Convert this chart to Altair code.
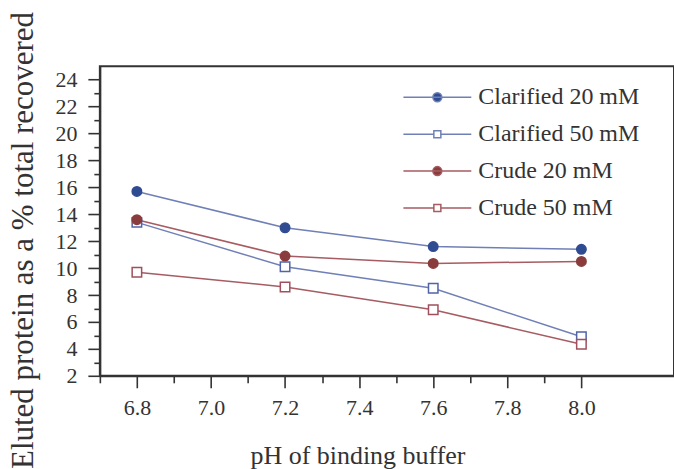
import altair as alt
import pandas as pd

# pH of the binding buffer
ph = [6.8, 7.2, 7.6, 8.0]

# Eluted protein as a % of total recovered
clarified_20 = [15.7, 13.0, 11.6, 11.4]
clarified_50 = [13.4, 10.1, 8.5, 4.9]
crude_20 = [13.6, 10.9, 10.35, 10.5]
crude_50 = [9.7, 8.6, 6.9, 4.35]

series_names = ["Clarified 20 mM", "Clarified 50 mM", "Crude 20 mM", "Crude 50 mM"]
series_values = [clarified_20, clarified_50, crude_20, crude_50]

x_ticks = [6.7, 6.8, 6.9, 7.0, 7.1, 7.2, 7.3, 7.4, 7.5, 7.6, 7.7, 7.8, 7.9, 8.0]
y_ticks = list(range(2, 25))

line_colors = ["#7080b6", "#7080b6", "#a65c62", "#a65c62"]
marker_strokes = ["#2f4c92", "#5064a8", "#8a3c3c", "#a0505c"]
marker_fills = ["#2f4c92", "#ffffff", "#8a3c3c", "#ffffff"]
marker_shapes = ["circle", "square", "circle", "square"]

# legend keys: a short line segment with the marker in its middle
circle_key = "M-6.8,0L6.8,0M0.9,0A0.9,0.9,0,1,1,-0.9,0A0.9,0.9,0,1,1,0.9,0Z"
square_key = "M-6.8,0L-0.7,0M0.7,0L6.8,0M-0.7,-0.7L0.7,-0.7L0.7,0.7L-0.7,0.7Z"
legend_keys = [circle_key, square_key, circle_key, square_key]

rows = []
for name, vals, lc, ms, mf, sh in zip(series_names, series_values, line_colors,
                                      marker_strokes, marker_fills, marker_shapes):
    for x, y in zip(ph, vals):
        rows.append(dict(ph=x, value=y, series=name, line_col=lc,
                         stroke_col=ms, fill_col=mf, shape=sh))
df = pd.DataFrame(rows)

FONT = "'Liberation Serif', 'Times New Roman', Times, serif"
INK = "#333333"

x_major = "round(datum.value * 10) % 2 == 0"
y_major = "datum.value % 2 == 0"

x_enc = alt.X(
    "ph:Q",
    scale=alt.Scale(domain=[6.7, 8.25], nice=False, zero=False),
    axis=alt.Axis(
        values=x_ticks, format=".1f",
        labelExpr=f"{x_major} ? datum.label : ''",
        tickSize={"condition": {"test": x_major, "value": 12}, "value": 7},
        labelPadding=10, labelOverlap=False, labelFlush=False,
        labelFont=FONT, titleFont=FONT,
        title="pH of binding buffer", titleFontSize=26,
        titleX=258, titleY=88, titleBaseline="alphabetic",
    ),
)
y_enc = alt.Y(
    "value:Q",
    scale=alt.Scale(domain=[2, 25], nice=False, zero=False),
    axis=alt.Axis(
        values=y_ticks,
        labelExpr=f"{y_major} ? datum.label : ''",
        tickSize={"condition": {"test": y_major, "value": 12}, "value": 6},
        labelPadding=11, labelOverlap=False, labelFlush=False,
        labelFont=FONT, titleFont=FONT,
        title="Eluted protein as a % total recovered", titleFontSize=31,
        titleX=-67, titleY=174, titleBaseline="alphabetic", titleAngle=-90,
    ),
)

base = alt.Chart(df)

lines = base.mark_line(strokeWidth=1.5).encode(
    x=x_enc, y=y_enc,
    color=alt.Color("line_col:N", scale=None),
    detail="series:N",
)

markers = base.mark_point(size=90, strokeWidth=1.5, opacity=1).encode(
    x=x_enc, y=y_enc,
    color=alt.Color("stroke_col:N", scale=None),
    fill=alt.Fill("fill_col:N", scale=None),
    shape=alt.Shape("shape:N", scale=None),
)

legend = alt.Legend(
    title=None, orient="none", legendX=326, legendY=19,
    labelFont=FONT, labelFontSize=24, labelColor=INK, labelLimit=400,
    symbolSize=100, symbolStrokeWidth=1.5, symbolOpacity=1,
    labelOffset=29, rowPadding=13, padding=0,
)

keys = base.mark_point(opacity=0).encode(
    x=x_enc, y=y_enc,
    color=alt.Color("series:N", sort=series_names, legend=legend,
                    scale=alt.Scale(domain=series_names, range=line_colors)),
    fill=alt.Fill("series:N", sort=series_names, legend=legend,
                  scale=alt.Scale(domain=series_names, range=marker_fills)),
    shape=alt.Shape("series:N", sort=series_names, legend=legend,
                    scale=alt.Scale(domain=series_names, range=legend_keys)),
)

chart = (
    alt.layer(lines, markers, keys)
    .properties(
        width=575, height=310,
        autosize=alt.AutoSizeParams(type="none"),
        padding={"left": 100, "top": 66, "right": 0, "bottom": 93},
        background="white",
    )
    .configure_view(stroke=INK, strokeWidth=2)
    .configure_axis(
        labelFontSize=22, labelColor=INK,
        titleColor=INK, titleFontWeight="normal",
        domainColor=INK, domainWidth=2, tickColor=INK, tickWidth=1.6,
        grid=False,
    )
)

chart.save("out.html", embed_options={"renderer": "svg", "actions": False})
